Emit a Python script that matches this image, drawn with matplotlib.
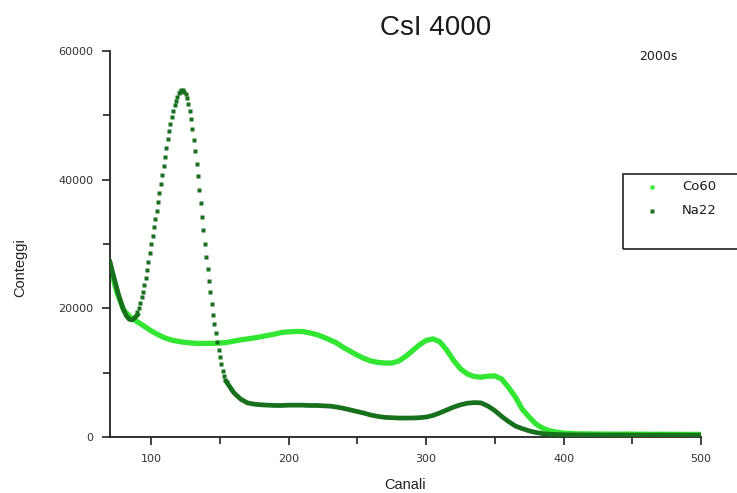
import matplotlib
matplotlib.use("Agg")
import matplotlib.pyplot as plt
from matplotlib.lines import Line2D
from matplotlib.patches import Rectangle
from matplotlib.ticker import MultipleLocator
import numpy as np

plt.rcParams['font.family'] = ['Liberation Sans', 'DejaVu Sans']

# Co60 spectrum, counts every 5 channels
co60_channels = list(range(70, 501, 5))
co60_counts = [
    26500, 22500, 19700, 18600, 17900, 17200, 16500, 15900, 15400, 15050,
    14850, 14700, 14600, 14550, 14550, 14550, 14600, 14700, 14900, 15100,
    15250, 15400, 15600, 15800, 16000, 16250, 16350, 16400, 16400, 16200,
    15950, 15550, 15100, 14600, 13900, 13300, 12700, 12200, 11800, 11600,
    11500, 11500, 11800, 12500, 13400, 14300, 15000, 15250, 14800, 13500,
    11900, 10600, 9800, 9400, 9300, 9450, 9500, 9000, 7700, 6200,
    4300, 3100, 2000, 1350, 950, 750, 600, 550, 500, 480,
    470, 460, 450, 450, 440, 460, 450, 430, 440, 420,
    430, 420, 410, 420, 400, 410, 400,
]

# Na22 spectrum: low-energy rise (every 2 channels)
na22_low_channels = list(range(70, 91, 2))
na22_low_counts = [27200, 25500, 23900, 22300, 20900, 19700, 18800, 18300, 18200, 18500, 19000]

# Na22 photopeak region, channel by channel
na22_peak_channels = list(range(90, 156))
na22_peak_counts = [
    19400, 20000, 20800, 21700, 22600, 23600, 24700, 25900, 27200, 28600,
    30000, 31300, 32600, 33900, 35200, 36500, 37900, 39300, 40800, 42200,
    43600, 45000, 46300, 47500, 48600, 49700, 50700, 51600, 52300, 52900,
    53400, 53700, 53900, 53900, 53700, 53300, 52700, 51800, 50700, 49400,
    47900, 46200, 44400, 42500, 40500, 38400, 36300, 34200, 32100, 30000,
    28000, 26100, 24300, 22500, 20700, 19000, 17500, 16100, 14800, 13600,
    12400, 11300, 10300, 9500, 8900, 8500,
]

# Na22 spectrum above the photopeak, every 5 channels
na22_high_channels = list(range(155, 501, 5))
na22_high_counts = [
    8500, 6900, 5900, 5300, 5100, 5000, 4950, 4900, 4900, 4950,
    4950, 4950, 4900, 4900, 4850, 4800, 4650, 4450, 4200, 3950,
    3700, 3400, 3200, 3050, 3000, 2950, 2950, 2950, 3000, 3100,
    3350, 3750, 4200, 4650, 5000, 5250, 5350, 5300, 4800, 4100,
    3200, 2400, 1700, 1300, 950, 700, 520, 430, 380, 350,
    330, 320, 320, 310, 310, 300, 300, 310, 300, 300,
    300, 290, 300, 300, 290, 300, 290, 290, 280, 290,
]

CO_COLOR = '#33e633'
NA_COLOR = '#17701c'

W, H = 737, 493
fig = plt.figure(figsize=(W / 100, H / 100), dpi=100)
ax = fig.add_axes([110 / W, (H - 437) / H, (701 - 110) / W, (437 - 51) / H])

ax.plot(co60_channels, co60_counts, color=CO_COLOR, lw=3.8, zorder=2)
ax.plot(na22_low_channels, na22_low_counts, color=NA_COLOR, lw=3.4, zorder=3)
ax.plot(na22_peak_channels, na22_peak_counts, ls='none', marker='s',
        ms=3.4, mec='none', mfc=NA_COLOR, zorder=3)
ax.plot(na22_high_channels, na22_high_counts, color=NA_COLOR, lw=3.4, zorder=3)

ax.set_xlim(70, 500)
ax.set_ylim(0, 60000)
ax.xaxis.set_major_locator(MultipleLocator(100))
ax.xaxis.set_minor_locator(MultipleLocator(50))
ax.yaxis.set_major_locator(MultipleLocator(20000))
ax.yaxis.set_minor_locator(MultipleLocator(10000))

for side in ('top', 'right'):
    ax.spines[side].set_visible(False)
for side in ('left', 'bottom'):
    ax.spines[side].set_linewidth(1.3)
    ax.spines[side].set_color('#222222')

ax.tick_params(which='both', direction='out', width=1.2, color='#222222',
               labelcolor='#333333')
ax.tick_params(which='major', length=6, pad=6)
ax.tick_params(which='minor', length=5)
for lab in ax.get_xticklabels() + ax.get_yticklabels():
    lab.set_family('DejaVu Sans')
    lab.set_fontsize(8)

ax.set_xlabel('Canali', fontsize=10.5, color='#222222', labelpad=10)
fig.text(20 / W, 1 - 268 / H, 'Conteggi', fontsize=10.5, color='#222222',
         rotation=90, ha='center', va='center')

fig.text(436 / W, 1 - 28 / H, 'CsI 4000', fontsize=20, color='#1a1a1a',
         ha='center', va='center')
fig.text(658 / W, 1 - 57 / H, '2000s', fontsize=9, color='#1a1a1a',
         family='DejaVu Sans', ha='center', va='center')

# Legend box
fig.patches.append(Rectangle((623 / W, 1 - 249 / H), 140 / W, 75 / H,
                             transform=fig.transFigure, fill=False,
                             edgecolor='#222222', lw=1.2, clip_on=False))
for yy, col, name in ((187, CO_COLOR, 'Co60'), (211, NA_COLOR, 'Na22')):
    fig.lines.append(Line2D([652 / W], [1 - yy / H], transform=fig.transFigure,
                            marker='s', ms=3.2, mec='none', mfc=col, ls='none'))
    fig.text(682 / W, 1 - yy / H, name, fontsize=9.5, color='#1a1a1a',
             family='DejaVu Sans', ha='left', va='center')

fig.savefig('out.png', dpi=100)
